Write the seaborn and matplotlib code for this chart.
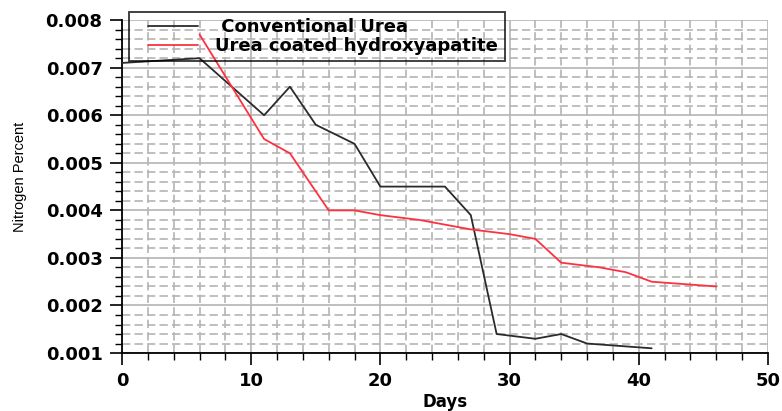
import matplotlib
matplotlib.use("Agg")
import matplotlib.pyplot as plt
import seaborn as sns
import pandas as pd
import numpy as np
from matplotlib.ticker import MultipleLocator, FormatStrFormatter
from matplotlib.legend_handler import HandlerLine2D
from matplotlib.lines import Line2D

# ---- data ----
conv_days = [0, 6, 11, 13, 15, 18, 20, 25, 27, 29, 32, 34, 36, 41]
conv_vals = [0.0071, 0.0072, 0.0060, 0.0066, 0.0058, 0.0054, 0.0045, 0.0045,
             0.0039, 0.0014, 0.0013, 0.0014, 0.0012, 0.0011]
hap_days = [6, 11, 13, 16, 18, 20, 23, 27, 30, 32, 34, 37, 39, 41, 46]
hap_vals = [0.0077, 0.0055, 0.0052, 0.0040, 0.0040, 0.0039, 0.0038, 0.0036,
            0.0035, 0.0034, 0.0029, 0.0028, 0.0027, 0.0025, 0.0024]
conv_label = " Conventional Urea"
hap_label = "Urea coated hydroxyapatite"
x_label = "Days"
y_label = "Nitrogen Percent"

sns.set_style("white")
plt.rcParams['font.family'] = ['DejaVu Sans']
plt.rcParams['text.color'] = 'black'
plt.rcParams['axes.labelcolor'] = 'black'
plt.rcParams['xtick.color'] = 'black'
plt.rcParams['ytick.color'] = 'black'

fig = plt.figure(figsize=(7.82, 4.11), dpi=100)
ax = fig.add_axes([0.156, 0.141, 0.826, 0.810])

df_conv = pd.DataFrame({"Days": conv_days, "N": conv_vals})
df_hap = pd.DataFrame({"Days": hap_days, "N": hap_vals})
sns.lineplot(data=df_conv, x="Days", y="N", color="#2b2b2b", lw=1.3,
             label=conv_label, ax=ax, zorder=3)
sns.lineplot(data=df_hap, x="Days", y="N", color="#ff3040", lw=1.3,
             label=hap_label, ax=ax, zorder=3)

ax.set_xlim(0, 50)
ax.set_ylim(0.001, 0.008)
ax.xaxis.set_major_locator(MultipleLocator(10))
ax.xaxis.set_minor_locator(MultipleLocator(2))
ax.yaxis.set_major_locator(MultipleLocator(0.001))
ax.yaxis.set_minor_locator(MultipleLocator(0.0002))
ax.yaxis.set_major_formatter(FormatStrFormatter('%.3f'))

ax.grid(which='major', color='#b4b4b4', lw=1.2, ls='-', zorder=0)
ax.grid(which='minor', color='#b4b4b4', lw=1.2, ls=(0, (5, 2.5)), zorder=0)
ax.set_axisbelow(True)

for s in ['top', 'right']:
    ax.spines[s].set_visible(False)
for s in ['left', 'bottom']:
    ax.spines[s].set_color('black')
    ax.spines[s].set_linewidth(1.3)

ax.tick_params(which='major', direction='out', length=8.5, width=1.2,
               color='black', pad=5.5, labelsize=13, left=True, bottom=True)
ax.tick_params(which='minor', direction='out', length=5, width=1.0,
               color='black', left=True, bottom=True)
for lab in ax.get_xticklabels() + ax.get_yticklabels():
    lab.set_fontweight('bold')

ax.set_xlabel(x_label, fontsize=12, fontweight='bold')
ax.xaxis.set_label_coords(0.5, -0.12)
ax.set_ylabel(y_label, fontsize=10.5, family=['Liberation Sans'])
ax.yaxis.set_label_coords(-0.147, 0.53)


class ShiftedLine(HandlerLine2D):
    def create_artists(self, legend, orig_handle, xdescent, ydescent,
                       width, height, fontsize, trans):
        arts = super().create_artists(legend, orig_handle, xdescent, ydescent,
                                      width, height, fontsize, trans)
        for a in arts:
            xd = np.asarray(a.get_xdata(), dtype=float)
            if len(xd) >= 2:
                a.set_xdata(np.linspace(xd[0] + 9.5, xd[-1], len(xd)))
        return arts


leg = ax.legend(loc='upper left', bbox_to_anchor=(0.0105, 1.025),
                prop={'weight': 'bold', 'size': 13}, frameon=True,
                fancybox=False, handlelength=3.5, handletextpad=0.95,
                labelspacing=0.05, borderpad=0.35, borderaxespad=0,
                handler_map={Line2D: ShiftedLine()})
leg.get_frame().set_edgecolor('black')
leg.get_frame().set_linewidth(1.3)
leg.get_frame().set_facecolor('none')
leg.set_zorder(5)

fig.savefig("out.png", dpi=100)
